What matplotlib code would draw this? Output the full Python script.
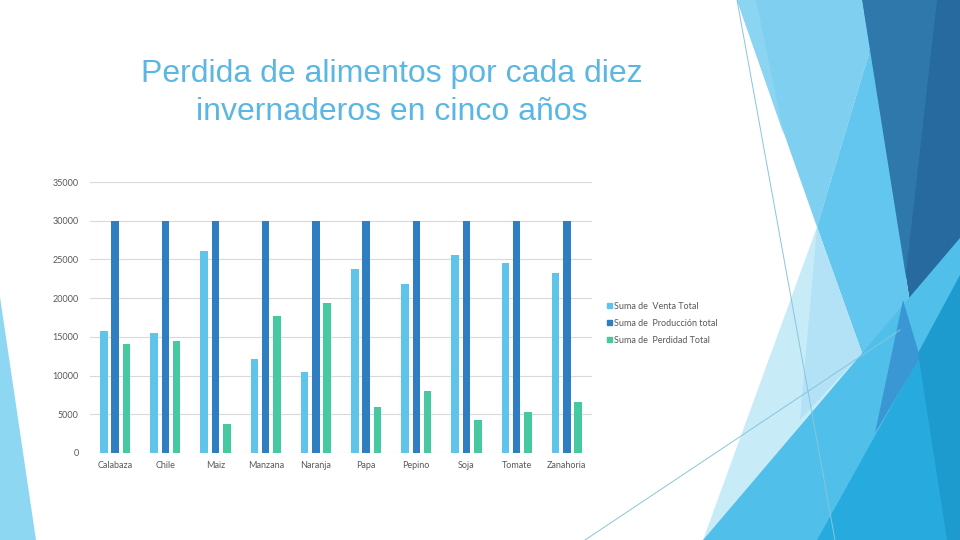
import matplotlib
matplotlib.use('Agg')
import matplotlib.pyplot as plt
from matplotlib.patches import Polygon, Patch
import numpy as np

# data
categorias = ['Calabaza', 'Chile', 'Maiz', 'Manzana', 'Naranja',
              'Papa', 'Pepino', 'Soja', 'Tomate', 'Zanahoria']
venta_total = [15800, 15540, 26130, 12180, 10500, 23800, 21870, 25610, 24580, 23290]
produccion_total = [30000, 30000, 30000, 30000, 30000, 30000, 30000, 30000, 30000, 30000]
perdida_total = [14120, 14420, 3790, 17740, 19415, 5980, 8050, 4300, 5340, 6630]
series_labels = ['Suma de  Venta Total', 'Suma de  Producción total', 'Suma de  Perdidad Total']
yticks = [0, 5000, 10000, 15000, 20000, 25000, 30000, 35000]

col_venta = '#5FC4EA'
col_prod = '#2F7EC1'
col_perd = '#46C8A0'
txt_gray = '#595959'

W, H = 960, 540
fig = plt.figure(figsize=(9.6, 5.4), dpi=100)
fig.patch.set_facecolor('white')

# background decoration, drawn in pixel coordinates
bg = fig.add_axes([0, 0, 1, 1], zorder=0)
bg.set_xlim(0, W)
bg.set_ylim(H, 0)
bg.axis('off')

shapes = [
    ([(0, 297), (0, 540), (36, 540)], '#8DD7F2'),
    ([(862, 0), (960, 0), (960, 280), (918, 353)], '#276A9F'),
    ([(862, 0), (937, 0), (903, 300)], '#2F78AB'),
    ([(737, 0), (862, 0), (870, 50), (817, 227)], '#7FCFF0'),
    ([(737, 0), (756, 0), (784, 135)], '#8BD5F3'),
    ([(870, 50), (817, 227), (862, 353), (918, 353)], '#62C6EE'),
    ([(817, 227), (703, 540), (862, 353)], '#C8EBF8'),
    ([(817, 227), (800, 420), (862, 353)], '#B3E2F6'),
    ([(703, 540), (960, 540), (960, 238)], '#50C0EA'),
    ([(817, 540), (920, 355), (960, 290), (960, 540)], '#27ABDF'),
    ([(903, 300), (920, 357), (875, 433)], '#3B97D3'),
    ([(918, 353), (960, 275), (960, 540), (947, 540)], '#1E9BCE'),
]
for pts, c in shapes:
    bg.add_patch(Polygon(pts, closed=True, facecolor=c, edgecolor='none'))
bg.plot([737, 835], [0, 540], color='#86C6DC', linewidth=0.7)
bg.plot([585, 900], [540, 330], color='#86C6DC', linewidth=0.7)

# title
fig.text(392 / W, 1 - 93 / H, 'Perdida de alimentos por cada diez\ninvernaderos en cinco años',
         ha='center', va='center', fontsize=23, color='#5AB7E4',
         family='Liberation Sans', linespacing=1.34)

# chart
ax = fig.add_axes([90 / W, 87 / H, 502 / W, 271 / H], zorder=1)
ax.patch.set_alpha(0)
x = np.arange(len(categorias))
bw = 0.15
off = 0.225
ax.bar(x - off, venta_total, bw, color=col_venta, zorder=2)
ax.bar(x, produccion_total, bw, color=col_prod, zorder=2)
ax.bar(x + off, perdida_total, bw, color=col_perd, zorder=2)

ax.set_xlim(-0.5, len(categorias) - 0.5)
ax.set_ylim(0, 35000)
ax.set_yticks(yticks)
ax.set_yticklabels([str(v) for v in yticks])
ax.set_xticks(x)
ax.set_xticklabels(categorias)
ax.yaxis.grid(True, color='#D9D9D9', linewidth=0.8, zorder=0)
ax.set_axisbelow(True)
for s in ax.spines.values():
    s.set_visible(False)
ax.tick_params(axis='both', length=0, labelsize=6.5, labelcolor=txt_gray)
ax.tick_params(axis='y', pad=8)
ax.tick_params(axis='x', pad=6)
for lab in ax.get_xticklabels() + ax.get_yticklabels():
    lab.set_family('Lato')

handles = [Patch(color=col_venta), Patch(color=col_prod), Patch(color=col_perd)]
fig.legend(handles, series_labels, loc='upper left',
           bbox_to_anchor=(603 / W, 1 - 298 / H), frameon=False,
           prop={'family': 'Lato', 'size': 6.5}, labelcolor=txt_gray,
           handlelength=0.55, handleheight=0.55, handletextpad=0.3,
           labelspacing=0.9, borderaxespad=0)

fig.savefig('out.png', dpi=100)
